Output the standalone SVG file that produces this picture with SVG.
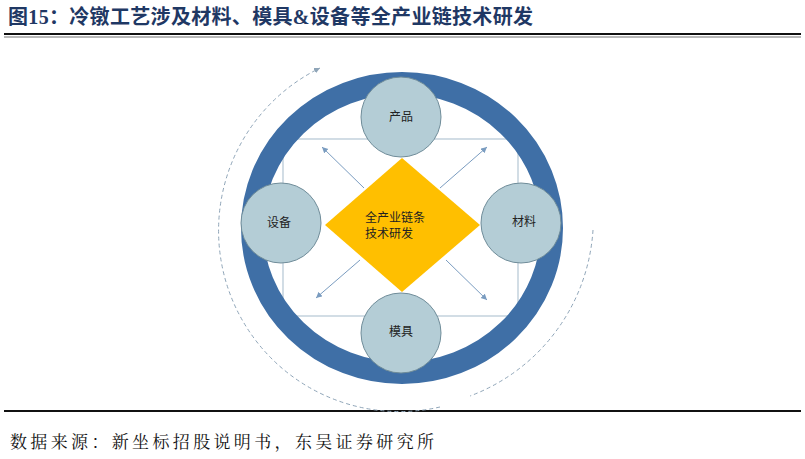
<svg xmlns="http://www.w3.org/2000/svg" width="805" height="459" viewBox="0 0 805 459">
<style>
.cn{font-family:"Noto Sans CJK SC","Noto Sans",sans-serif}
.node{fill:#b4cdd6;stroke:#6f8c99;stroke-width:1}
.lbl{font-size:12px;fill:#222;text-anchor:middle}
.ar{stroke:#7a9cc0;stroke-width:1;fill:none;marker-end:url(#ah)}
.dash{stroke:#8fa5b8;stroke-width:1;fill:none;stroke-dasharray:4 3}
</style>
<defs>
<marker id="ah" markerWidth="8" markerHeight="8" refX="6" refY="3" orient="auto" markerUnits="userSpaceOnUse"><path d="M0,0 L6,3 L0,6 Z" fill="#7a9cc0"/></marker>
<marker id="ah2" markerWidth="8" markerHeight="8" refX="6" refY="3" orient="auto" markerUnits="userSpaceOnUse"><path d="M0,0 L6,3 L0,6 Z" fill="#8fa5b8"/></marker>
</defs>
<rect width="805" height="459" fill="#fff"/>
<text x="8" y="24" font-family="Liberation Serif,'Noto Sans CJK SC',serif" font-weight="bold" font-size="20" fill="#1f3864" textLength="525">图15：冷镦工艺涉及材料、模具&amp;设备等全产业链技术研发</text>
<line x1="4" y1="34" x2="801" y2="34" stroke="#111" stroke-width="2"/>
<line x1="4" y1="37" x2="801" y2="37" stroke="#111" stroke-width="0.6"/>
<line x1="4" y1="411" x2="801" y2="411" stroke="#111" stroke-width="2"/>
<text x="10" y="448" font-family="'Noto Serif CJK SC','Noto Sans CJK SC',serif" font-size="17" fill="#111" textLength="424">数据来源：新坐标招股说明书，东吴证券研究所</text>
<g id="connectors">
<path class="dash" d="M440 407 A181 181 0 0 1 320 68" marker-end="url(#ah2)"/>
<path class="dash" d="M593 230 A190 190 0 0 1 470 396"/>
<rect x="283" y="139" width="235" height="177" fill="none" stroke="#b4c6d4" stroke-width="1.2"/>
<line class="ar" x1="364" y1="188" x2="322" y2="147"/>
<line class="ar" x1="440" y1="188" x2="487" y2="147"/>
<line class="ar" x1="360" y1="260" x2="316" y2="298"/>
<line class="ar" x1="446" y1="260" x2="487" y2="300"/>
</g>
<g id="ring"><ellipse cx="402" cy="228" rx="150" ry="145" fill="none" stroke="#3f6fa6" stroke-width="22"/></g>
<g id="center"><polygon points="402,158 480,225 402,292 325,225" fill="#ffbf00"/>
<text class="cn lbl" x="395" y="222">全产业链条</text>
<text class="cn lbl" x="389" y="238">技术研发</text></g>
<g id="n1"><circle class="node" cx="401" cy="117" r="40"/><text class="cn lbl" x="401" y="121">产品</text></g>
<g id="n2"><circle class="node" cx="281" cy="223" r="40"/><text class="cn lbl" x="279" y="227">设备</text></g>
<g id="n3"><circle class="node" cx="521" cy="223" r="40"/><text class="cn lbl" x="524" y="226">材料</text></g>
<g id="n4"><circle class="node" cx="401" cy="333" r="40"/><text class="cn lbl" x="401" y="336">模具</text></g>
</svg>
